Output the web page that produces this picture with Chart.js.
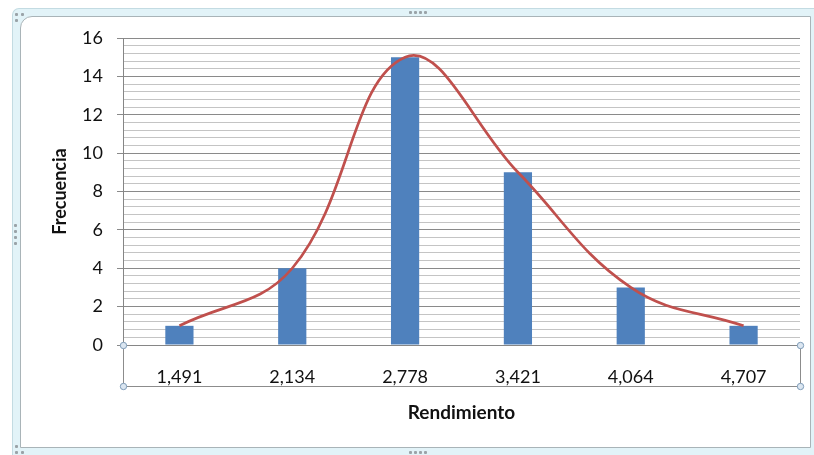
<!DOCTYPE html>
<html>
<head>
<meta charset="utf-8">
<script src="https://cdn.jsdelivr.net/npm/chart.js@4"></script>
<style>
  html, body { margin: 0; padding: 0; background: #ffffff; }
  body { width: 814px; height: 455px; position: relative; overflow: hidden; }
  .frame-outer {
    position: absolute; left: 12px; top: 8px; width: 802px; height: 447px;
    background: #e2f3f8; border-left: 1px solid #c3dbe2; border-top: 1px solid #c3dbe2;
    border-top-left-radius: 7px; box-sizing: border-box;
  }
  .frame-inner {
    position: absolute; left: 20px; top: 16px; width: 791px; height: 432px;
    background: #ffffff; border: 1px solid #a9b4b8; border-top-left-radius: 12px;
    box-sizing: border-box;
  }
  .dot { position: absolute; width: 3px; height: 3px; background: #9aa3a8; border-radius: 1px; }
  #chart { position: absolute; left: 0; top: 0; }
</style>
</head>
<body>
<div class="frame-outer"></div>
<div class="frame-inner"></div>
<div id="dots"></div>
<canvas id="chart" width="814" height="455"></canvas>
<script>
// Histogram of "Rendimiento" class marks with a smoothed frequency curve
const categories = ['1,491', '2,134', '2,778', '3,421', '4,064', '4,707'];
const frequencies = [1, 4, 15, 9, 3, 1];
const yTickLabels = ['0', '2', '4', '6', '8', '10', '12', '14', '16'];
const yMin = 0;
const yMax = 16;
const yMinorStep = 0.4;
const yMajorStep = 2;

// Resize handles on the chart frame
const dotPositions = [
  [409, 11], [414, 11], [419, 11], [424, 11],
  [409, 451], [414, 451], [419, 451], [424, 451],
  [14, 224], [14, 230], [14, 236], [14, 242],
  [15, 13], [21, 13], [15, 19],
  [15, 445], [15, 451], [21, 451]
];
const dotsEl = document.getElementById('dots');
dotPositions.forEach(([x, y]) => {
  const d = document.createElement('div');
  d.className = 'dot';
  d.style.left = x + 'px';
  d.style.top = y + 'px';
  dotsEl.appendChild(d);
});

const isMajor = v => Math.abs(v / yMajorStep - Math.round(v / yMajorStep)) < 1e-6;

// Selection box around the category axis, with round handles at its corners
const axisBoxPlugin = {
  id: 'axisBox',
  afterDraw(chart) {
    const { ctx, chartArea } = chart;
    const left = chartArea.left, right = chartArea.right, top = chartArea.bottom;
    const bottom = top + 41;
    ctx.save();
    ctx.strokeStyle = '#8c8c8c';
    ctx.lineWidth = 1;
    ctx.beginPath();
    ctx.moveTo(left + 0.5, top);
    ctx.lineTo(left + 0.5, bottom + 0.5);
    ctx.lineTo(right + 0.5, bottom + 0.5);
    ctx.lineTo(right + 0.5, top);
    ctx.stroke();
    [[left, top], [left, bottom], [right, top], [right, bottom]].forEach(([x, y]) => {
      ctx.beginPath();
      ctx.arc(x + 0.5, y + 0.5, 3.2, 0, Math.PI * 2);
      ctx.fillStyle = '#dbe6f1';
      ctx.fill();
      ctx.strokeStyle = '#7f9cb8';
      ctx.stroke();
    });
    ctx.restore();
  }
};

new Chart(document.getElementById('chart'), {
  data: {
    labels: categories,
    datasets: [
      {
        type: 'line',
        data: frequencies,
        borderColor: '#c0504d',
        borderWidth: 2.7,
        pointRadius: 0,
        tension: 0.4,
        fill: false,
        order: 0
      },
      {
        type: 'bar',
        data: frequencies,
        backgroundColor: '#4f81bd',
        borderWidth: 0,
        barPercentage: 1,
        categoryPercentage: 0.25,
        order: 1
      }
    ]
  },
  options: {
    responsive: false,
    animation: false,
    events: [],
    layout: { padding: { top: 38, right: 14, left: 0, bottom: 0 } },
    plugins: { legend: { display: false }, tooltip: { enabled: false } },
    scales: {
      x: {
        offset: true,
        grid: { display: false, drawTicks: false },
        border: { display: true, color: '#868686', width: 1 },
        ticks: {
          color: '#111111',
          font: { family: 'Lato', size: 18 },
          padding: 21,
          maxRotation: 0
        },
        title: {
          display: true,
          text: 'Rendimiento',
          color: '#111111',
          font: { family: 'Lato', size: 19, weight: 'bold' },
          padding: { top: 0, bottom: 31 }
        },
        afterFit(scale) { scale.height = 110; }
      },
      y: {
        min: yMin,
        max: yMax,
        grid: {
          color: ctx => isMajor(ctx.tick.value) ? '#8a8a8a' : '#c4c4c4',
          tickColor: ctx => isMajor(ctx.tick.value) ? '#8a8a8a' : 'rgba(0,0,0,0)',
          lineWidth: 1,
          tickLength: 6
        },
        border: { display: true, color: '#868686', width: 1 },
        ticks: {
          stepSize: yMinorStep,
          maxTicksLimit: 100,
          autoSkip: false,
          padding: 14,
          color: '#111111',
          font: { family: 'Lato', size: 18 },
          callback: v => isMajor(v) ? yTickLabels[Math.round(v / yMajorStep)] : ''
        },
        title: {
          display: true,
          text: 'Frecuencia',
          color: '#111111',
          font: { family: 'Lato', size: 18, weight: 'bold' },
          padding: { top: 49, bottom: 0 }
        },
        afterFit(scale) { scale.width = 123; }
      }
    }
  },
  plugins: [axisBoxPlugin]
});
</script>
</body>
</html>
